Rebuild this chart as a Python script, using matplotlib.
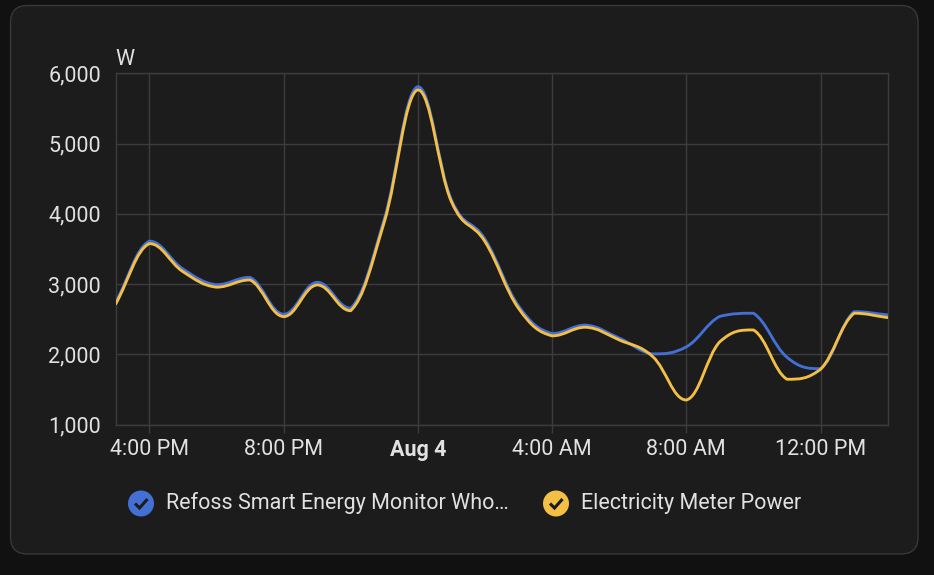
import matplotlib
matplotlib.use("Agg")
import matplotlib.pyplot as plt
import matplotlib.dates as mdates
from matplotlib.path import Path
from matplotlib.patches import PathPatch, FancyBboxPatch, Circle
from matplotlib.ticker import FuncFormatter
import numpy as np
import pandas as pd

# hourly readings, Aug 3 15:00 -> Aug 4 14:00
times = pd.date_range("2024-08-03 15:00", periods=24, freq="h")
refoss = [2740, 3610, 3215, 2990, 3095, 2570, 3025, 2655, 3920, 5810, 4200, 3640,
          2690, 2295, 2415, 2230, 2005, 2105, 2540, 2584, 1957, 1795, 2607, 2560]
meter = [2716, 3575, 3177, 2955, 3058, 2536, 2987, 2620, 3880, 5765, 4175, 3605,
         2655, 2262, 2385, 2204, 1966, 1349, 2179, 2346, 1644, 1786, 2584, 2522]
series_names = ["Refoss Smart Energy Monitor Who…", "Electricity Meter Power"]
colors = ["#4470d6", "#f4bf45"]
x_ticks = ["2024-08-03 16:00", "2024-08-03 20:00", "2024-08-04 00:00",
           "2024-08-04 04:00", "2024-08-04 08:00", "2024-08-04 12:00"]
x_labels = ["4:00 PM", "8:00 PM", "Aug 4", "4:00 AM", "8:00 AM", "12:00 PM"]
y_ticks = [1000, 2000, 3000, 4000, 5000, 6000]

plt.rcParams["font.family"] = ["Roboto", "DejaVu Sans"]
TXT = "#e1e1e1"
GRID = "#3c3c3c"
FS = 15.5

W, H = 934, 575
fig = plt.figure(figsize=(W / 100, H / 100), dpi=100)
fig.patch.set_facecolor("#111111")

# background layer in pixel coords
bg = fig.add_axes([0, 0, 1, 1], zorder=0)
bg.set_xlim(0, W)
bg.set_ylim(H, 0)
bg.axis("off")
bg.add_patch(FancyBboxPatch((10.5, 5.5), 907.5, 548.5,
                            boxstyle="round,pad=0,rounding_size=17",
                            fc="#1c1c1c", ec="#383838", lw=1))


def smooth_path(x, y, k=0.4):
    # bezier through the points, control points clamped to each segment (echarts-like)
    x = np.asarray(x, float)
    y = np.asarray(y, float)
    n = len(x)
    m = np.zeros(n)
    for i in range(1, n - 1):
        m[i] = (y[i + 1] - y[i - 1]) / (x[i + 1] - x[i - 1])
    m[0] = (y[1] - y[0]) / (x[1] - x[0])
    m[-1] = (y[-1] - y[-2]) / (x[-1] - x[-2])
    verts = [(x[0], y[0])]
    codes = [Path.MOVETO]
    for i in range(n - 1):
        h = (x[i + 1] - x[i]) * k
        lo, hi = min(y[i], y[i + 1]), max(y[i], y[i + 1])
        c1 = np.clip(y[i] + m[i] * h, lo, hi)
        c2 = np.clip(y[i + 1] - m[i + 1] * h, lo, hi)
        verts += [(x[i] + h, c1), (x[i + 1] - h, c2), (x[i + 1], y[i + 1])]
        codes += [Path.CURVE4] * 3
    return Path(verts, codes)


ax = fig.add_axes([115.7 / W, 1 - 424.5 / H, 772 / W, 351.2 / H], zorder=1)
ax.set_facecolor("none")
xs = mdates.date2num(times)
for vals, c in zip([refoss, meter], colors):
    ax.add_patch(PathPatch(smooth_path(xs, vals), fc="none", ec=c, lw=2.05,
                           capstyle="round", joinstyle="round", zorder=3))

ax.set_xlim(mdates.date2num(pd.Timestamp("2024-08-03 15:00")),
            mdates.date2num(pd.Timestamp("2024-08-04 14:00")))
ax.set_ylim(1000, 6000)
ax.set_yticks(y_ticks)
ax.yaxis.set_major_formatter(FuncFormatter(lambda v, p: f"{int(v):,}"))
ax.set_xticks(mdates.date2num(pd.to_datetime(x_ticks)))
ax.set_xticklabels(x_labels)
for lab in ax.get_xticklabels():
    if lab.get_text() == "Aug 4":
        lab.set_fontweight("bold")

ax.grid(True, color=GRID, lw=1.0)
ax.set_axisbelow(True)
for sp in ax.spines.values():
    sp.set_color(GRID)
    sp.set_linewidth(1.0)
ax.tick_params(axis="y", length=0, pad=10.5, labelsize=FS, labelcolor=TXT)
ax.tick_params(axis="x", length=5.5, width=1.0, color=GRID, pad=5,
               labelsize=FS, labelcolor=TXT)
ax.text(0, 1.024, "W", transform=ax.transAxes, fontsize=FS, color=TXT,
        ha="left", va="baseline")

# legend
leg_x = [141, 556]
for cx, name, c in zip(leg_x, series_names, colors):
    bg.add_patch(Circle((cx, 503.5), 13, fc=c, ec="none"))
    bg.plot([cx - 6, cx - 1.5, cx + 6.5], [503.5, 508, 499], color="#1c1c1c",
            lw=2.2, solid_capstyle="butt", solid_joinstyle="miter")
    bg.text(cx + 25, 503.5, name, fontsize=FS, color=TXT, ha="left", va="center")

fig.savefig("out.png", dpi=100, facecolor=fig.get_facecolor())
